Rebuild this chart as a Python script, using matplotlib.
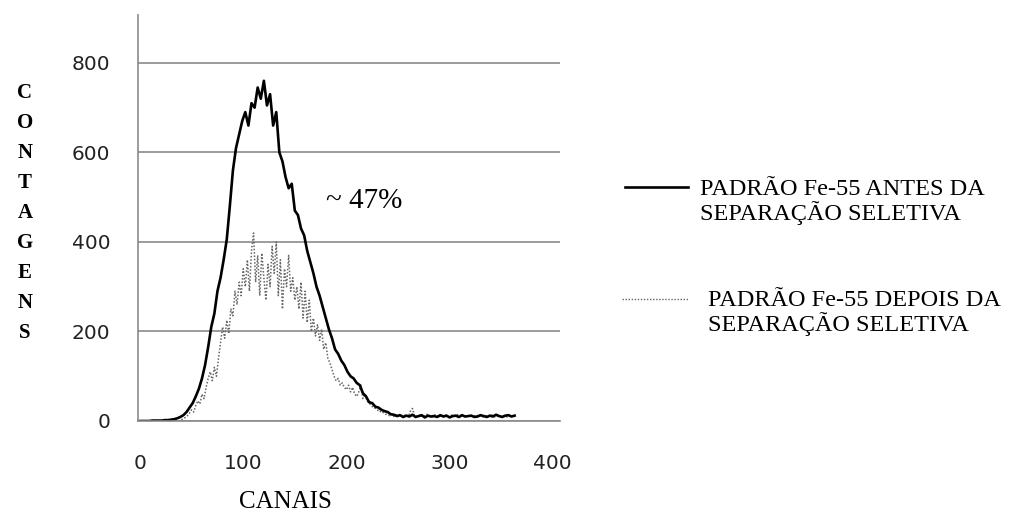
import numpy as np
import matplotlib.pyplot as plt
from matplotlib.lines import Line2D

# Fe-55 spectrum, counts per channel, before the selective separation (every 3 channels)
canais_antes = np.arange(0, 366, 3)
contagens_antes = [
    0, 0, 0, 0, 1, 1, 1, 1, 2, 2,
    3, 4, 6, 9, 13, 20, 30, 40, 55, 72,
    95, 125, 165, 210, 240, 290, 320, 360, 405, 480,
    560, 610, 640, 670, 690, 660, 710, 700, 745, 720,
    760, 705, 730, 660, 690, 600, 580, 545, 520, 530,
    470, 460, 430, 415, 380, 355, 330, 300, 280, 255,
    230, 205, 185, 160, 150, 135, 125, 110, 100, 95,
    85, 80, 62, 55, 42, 40, 32, 30, 25, 22,
    20, 15, 14, 11, 13, 9, 12, 10, 14, 9,
    11, 13, 8, 12, 10, 11, 9, 13, 10, 12,
    8, 11, 12, 9, 13, 10, 11, 12, 9, 10,
    13, 11, 9, 12, 10, 14, 11, 9, 12, 13,
    10, 12,
]

# same standard after the selective separation (every 2 channels)
canais_depois = np.arange(40, 362, 2)
contagens_depois = [
    3, 5, 8, 12, 18, 25, 20, 35, 45, 38,
    60, 50, 75, 95, 110, 90, 120, 100, 140, 175,
    210, 185, 225, 195, 250, 235, 290, 260, 310, 280,
    340, 300, 360, 290, 380, 420, 310, 370, 280, 375,
    320, 270, 350, 300, 390, 330, 400, 280, 360, 250,
    340, 300, 370, 290, 320, 270, 300, 250, 310, 230,
    290, 220, 270, 200, 230, 190, 215, 180, 205, 160,
    175, 140, 130, 115, 100, 90, 95, 80, 85, 75,
    70, 80, 65, 75, 60, 55, 65, 80, 50, 60,
    45, 40, 35, 30, 28, 25, 20, 22, 18, 15,
    14, 12, 16, 10, 14, 12, 15, 10, 12, 14,
    10, 22, 28, 12, 10, 14, 9, 13, 11, 15,
    10, 12, 9, 14, 11, 13, 10, 12, 15, 9,
    11, 13, 10, 12, 14, 9, 11, 12, 10, 13,
    9, 12, 11, 14, 10, 12, 9, 13, 11, 10,
    12, 14, 9, 11, 13, 10, 12, 11, 9, 13,
    12,
]

xticks = [0, 100, 200, 300, 400]
yticks = [0, 200, 400, 600, 800]

fig = plt.figure(figsize=(10.16, 5.14), dpi=100)
ax = fig.add_axes([138 / 1016, 93 / 514, 422 / 1016, 406 / 514])

ax.plot(canais_depois, contagens_depois, color='#666666', lw=1.1, ls=(0, (1, 1.2)))
ax.plot(canais_antes, contagens_antes, color='black', lw=1.9)

ax.set_xlim(-2, 407)
ax.set_ylim(0, 907)
ax.set_xticks(xticks)
ax.set_yticks(yticks)
ax.tick_params(length=0, labelsize=14.5, colors='#222222')
ax.tick_params(axis='y', pad=20)
ax.tick_params(axis='x', pad=24)
ax.yaxis.grid(True, color='#8a8a8a', lw=1.2)
ax.set_axisbelow(True)
for s in ['top', 'right']:
    ax.spines[s].set_visible(False)
ax.spines['left'].set_color('#8a8a8a')
ax.spines['bottom'].set_color('#8a8a8a')
ax.spines['left'].set_linewidth(1.2)
ax.spines['bottom'].set_linewidth(1.2)

serif = 'Liberation Serif'

# vertical y label, one letter per row
for i, letra in enumerate('CONTAGENS'):
    fig.text(25 / 1016, 1 - (93 + i * 30.0) / 514, letra, family=serif,
             weight='bold', fontsize=15, ha='center', va='center')

fig.text(285 / 1016, 1 - 502 / 514, 'CANAIS', family=serif, fontsize=18,
         ha='center', va='center')

ax.text(326 / 1016, 1 - 201 / 514, '~ 47%', transform=fig.transFigure,
        family=serif, fontsize=21, ha='left', va='center')

# legend drawn by hand to the right of the axes
fig.add_artist(Line2D([625 / 1016, 688 / 1016], [1 - 187 / 514] * 2,
                      color='black', lw=1.9, transform=fig.transFigure))
fig.text(700 / 1016, 1 - 202 / 514, 'PADRÃO Fe-55 ANTES DA\nSEPARAÇÃO SELETIVA',
         family=serif, fontsize=17.5, ha='left', va='center', linespacing=1.05)
fig.add_artist(Line2D([622 / 1016, 688 / 1016], [1 - 299 / 514] * 2,
                      color='#666666', lw=1.0, ls=(0, (1, 1.2)), transform=fig.transFigure))
fig.text(708 / 1016, 1 - 313 / 514, 'PADRÃO Fe-55 DEPOIS DA\nSEPARAÇÃO SELETIVA',
         family=serif, fontsize=17.5, ha='left', va='center', linespacing=1.05)

fig.savefig('out.png', dpi=100)
